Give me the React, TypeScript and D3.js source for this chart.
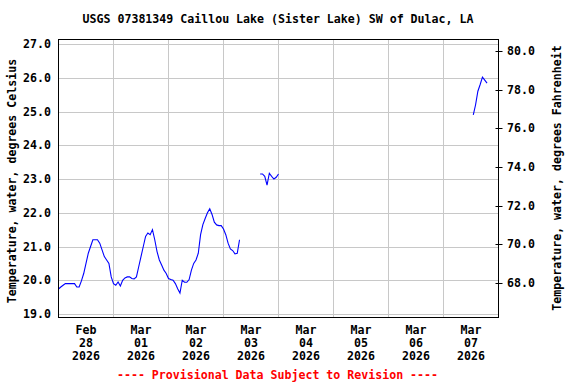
import React from "react";
import * as d3 from "d3";

const TITLE = "USGS 07381349 Caillou Lake (Sister Lake) SW of Dulac, LA";
const LEFT_LABEL = "Temperature, water, degrees Celsius";
const RIGHT_LABEL = "Temperature, water, degrees Fahrenheit";
const FOOTER = "---- Provisional Data Subject to Revision ----";

const dayMonths = ["Feb", "Mar", "Mar", "Mar", "Mar", "Mar", "Mar", "Mar"];
const dayNumbers = ["28", "01", "02", "03", "04", "05", "06", "07"];
const dayYears = ["2026", "2026", "2026", "2026", "2026", "2026", "2026", "2026"];

const celsiusTicks = [19, 20, 21, 22, 23, 24, 25, 26, 27];
const fahrenheitTicks = [68, 70, 72, 74, 76, 78, 80];

// hourly readings, degrees Celsius
const seg1Start = "2026-02-28T00:00:00";
const seg1Values = [
  19.74, 19.8, 19.85, 19.9, 19.9, 19.9, 19.9, 19.9, 19.8, 19.8,
  19.98, 20.2, 20.5, 20.8, 21.0, 21.2, 21.2, 21.2, 21.1, 20.9,
  20.7, 20.6, 20.5, 20.1, 19.9, 19.85, 19.95, 19.83, 20.0, 20.07,
  20.1, 20.1, 20.05, 20.04, 20.1, 20.4, 20.7, 21.0, 21.3, 21.4,
  21.35, 21.5, 21.2, 20.85, 20.6, 20.45, 20.3, 20.2, 20.05, 20.02,
  20.0, 19.9, 19.75, 19.62, 20.0, 19.94, 19.94, 20.02, 20.3, 20.5,
  20.6, 20.8, 21.35, 21.65, 21.83, 22.0, 22.12, 21.95, 21.72, 21.64,
  21.62, 21.62, 21.52, 21.35, 21.1, 20.93, 20.88, 20.78, 20.8, 21.2,
];
const seg2Start = "2026-03-03T16:00:00";
const seg2Values = [23.15, 23.15, 23.08, 22.82, 23.17, 23.08, 23.0, 23.05, 23.15];
const seg3Start = "2026-03-07T13:00:00";
const seg3Values = [24.9, 25.2, 25.6, 25.8, 26.02, 25.93, 25.84];

const W = 576;
const H = 384;
const FONT = "'DejaVu Sans Mono', monospace";
const FS = 11.6;

const left = 58.5;
const right = 498.5;
const top = 39.5;
const bottom = 317.5;

const xScale = d3
  .scaleTime()
  .domain([new Date("2026-02-28T00:00:00"), new Date("2026-03-08T00:00:00")])
  .range([left, right]);

const yC = d3.scaleLinear().domain([19, 27]).range([314, 44]);
const yF = d3.scaleLinear().domain([66.2, 80.6]).range([bottom, top]);

function toPoints(start: string, values: number[]) {
  const t0 = new Date(start);
  return values.map((v, i) => ({ t: d3.timeHour.offset(t0, i), v }));
}

const segments = [
  toPoints(seg1Start, seg1Values),
  toPoints(seg2Start, seg2Values),
  toPoints(seg3Start, seg3Values),
];

const line = d3
  .line<{ t: Date; v: number }>()
  .x((d) => xScale(d.t))
  .y((d) => yC(d.v));

export default function App() {
  const dayStart = new Date("2026-02-28T00:00:00");
  const midnights = d3.timeDay.range(
    d3.timeDay.offset(dayStart, 1),
    d3.timeDay.offset(dayStart, 8)
  );
  const noons = dayMonths.map((_, i) =>
    d3.timeHour.offset(d3.timeDay.offset(dayStart, i), 12)
  );
  return (
    <svg
      width={W}
      height={H}
      style={{ position: "absolute", left: 0, top: 0, background: "#fff" }}
      fontFamily={FONT}
      fontWeight="bold"
      fontSize={FS}
    >
      <rect x={0} y={0} width={W} height={H} fill="#fff" />
      <text x={W / 2 - 10} y={23} textAnchor="middle" fill="#000">
        {TITLE}
      </text>
      {/* grid */}
      {celsiusTicks.map((c) => (
        <line
          key={"gh" + c}
          x1={left}
          x2={right}
          y1={Math.round(yC(c)) + 0.5}
          y2={Math.round(yC(c)) + 0.5}
          stroke="#c8c8c8"
          strokeWidth={1}
        />
      ))}
      {midnights.map((d, i) => (
        <line
          key={"gv" + i}
          x1={Math.round(xScale(d)) - 0.5}
          x2={Math.round(xScale(d)) - 0.5}
          y1={top}
          y2={bottom}
          stroke="#c8c8c8"
          strokeWidth={1}
        />
      ))}
      {/* data */}
      {segments.map((s, i) => (
        <path key={"s" + i} d={line(s) || ""} fill="none" stroke="#0000ff" strokeWidth={1.1} />
      ))}
      {/* frame */}
      <rect
        x={left}
        y={top}
        width={right - left}
        height={bottom - top}
        fill="none"
        stroke="#000"
        strokeWidth={1}
      />
      {/* left axis */}
      {celsiusTicks.map((c) => (
        <text key={"lc" + c} x={51} y={yC(c) + 4} textAnchor="end" fill="#000">
          {c.toFixed(1)}
        </text>
      ))}
      <text
        transform={`translate(16,${181}) rotate(-90)`}
        textAnchor="middle"
        fill="#000"
      >
        {LEFT_LABEL}
      </text>
      {/* right axis */}
      {fahrenheitTicks.map((f) => (
        <g key={"rf" + f}>
          <line
            x1={right - 3}
            x2={right + 4}
            y1={Math.round(yF(f)) + 0.5}
            y2={Math.round(yF(f)) + 0.5}
            stroke="#000"
            strokeWidth={1}
          />
          <text x={507} y={yF(f) + 4} textAnchor="start" fill="#000">
            {f.toFixed(1)}
          </text>
        </g>
      ))}
      <text
        transform={`translate(561,${178}) rotate(-90)`}
        textAnchor="middle"
        fill="#000"
      >
        {RIGHT_LABEL}
      </text>
      {/* x labels */}
      {noons.map((d, i) => (
        <g key={"xl" + i}>
          <text x={xScale(d)} y={334} textAnchor="middle" fill="#000">
            {dayMonths[i]}
          </text>
          <text x={xScale(d)} y={347} textAnchor="middle" fill="#000">
            {dayNumbers[i]}
          </text>
          <text x={xScale(d)} y={360} textAnchor="middle" fill="#000">
            {dayYears[i]}
          </text>
        </g>
      ))}
      <text x={277.5} y={379} textAnchor="middle" fill="#ff0000">
        {FOOTER}
      </text>
    </svg>
  );
}
